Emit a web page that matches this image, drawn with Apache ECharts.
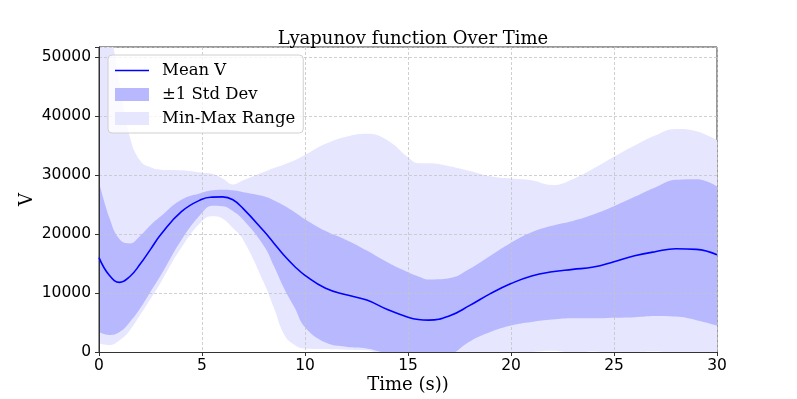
<!DOCTYPE html>
<html>
<head>
<meta charset="utf-8">
<title>Lyapunov function Over Time</title>
<script src="https://cdn.jsdelivr.net/npm/echarts@6/dist/echarts.min.js"></script>
<style>
    html, body { margin: 0; padding: 0; background: #fff; }
    #chart { width: 797px; height: 399px; }
</style>
</head>
<body>
<div id="chart"></div>
<script>
// time samples (s)
var timeArr  = [0, 0.5, 1, 1.5, 2, 2.5, 3, 4, 5, 5.5, 6, 6.5, 7, 8, 8.5, 9, 9.5, 10, 11, 12, 13, 14, 15, 15.5, 16, 17, 18, 19, 20, 21, 22, 23, 24, 25, 26, 27, 28, 29, 30];
// values
var meanArr  = [16000, 13000, 11800, 12800, 14900, 17400, 19900, 23800, 25900, 26250, 26300, 25800, 24300, 20500, 18400, 16300, 14500, 13000, 10800, 9700, 8800, 7200, 5900, 5500, 5400, 6100, 7900, 9900, 11600, 12900, 13600, 14000, 14400, 15300, 16300, 17000, 17500, 17400, 16500];
var stdUpArr = [28800, 22800, 19100, 18400, 19700, 21500, 23000, 25800, 27000, 27400, 27500, 27400, 27100, 26400, 25700, 24800, 23700, 22500, 20500, 19000, 17200, 15200, 13500, 12800, 12300, 12500, 14100, 16300, 18500, 20300, 21400, 22200, 23300, 24700, 26300, 27900, 29200, 29300, 28100];
var stdLowArr = [3400, 2900, 3400, 5100, 7400, 10200, 13000, 19000, 23600, 24800, 24700, 23900, 22400, 18000, 14500, 10700, 7500, 4200, 1600, 900, 600, -300, -1200, -1500, -1600, -600, 1800, 3400, 4500, 5100, 5500, 5700, 5700, 5800, 5900, 6100, 6000, 5400, 4500];
var maxArr   = [60000, 55000, 45400, 36400, 32400, 31300, 30900, 30800, 30400, 30200, 29400, 28400, 29100, 30500, 31200, 31800, 32500, 33400, 35300, 36500, 37000, 35900, 33000, 32000, 32000, 31500, 30700, 29800, 29400, 29100, 28300, 29300, 31100, 33100, 35000, 36700, 37800, 37400, 35900];
var minArr   = [1500, 1200, 2000, 3700, 6300, 9000, 11800, 17700, 22200, 23000, 22600, 21000, 19000, 11800, 7400, 2900, 1200, 600, 500, 400, 300, -1500, -3000, -3000, -3000, -2000, -500, -300, -200, 0, 200, -100, 100, -200, 0, 100, -100, 0, -200];

var serif = 'DejaVu Serif';
var sans = 'DejaVu Sans';
// blue at alpha 0.1 over white, and alpha 0.2 over that
var lightFill = '#e6e6ff';
var darkFill = '#b8b8ff';

function pairs(ys) {
    return timeArr.map(function (t, i) { return [t, ys[i]]; });
}

var myChart = echarts.init(document.getElementById('chart'));
var gridLine = { show: true, lineStyle: { color: '#c4c4c4', type: [3, 2], width: 0.8 } };
var option = {
    animation: false,
    title: {
        text: 'Lyapunov function Over Time',
        left: 408,
        top: 25,
        textAlign: 'center',
        textStyle: { fontFamily: serif, fontSize: 18, fontWeight: 'normal', color: '#000' }
    },
    legend: {
        left: 108,
        top: 55,
        orient: 'vertical',
        padding: [7, 8, 6, 7],
        itemWidth: 34,
        itemHeight: 13,
        itemGap: 7,
        backgroundColor: 'rgba(255,255,255,0.8)',
        borderColor: '#d0d0d0',
        borderWidth: 1,
        borderRadius: 4,
        selectedMode: false,
        z: 10,
        textStyle: { fontFamily: serif, fontSize: 16.5, color: '#000', lineHeight: 16, padding: [0, 0, 0, 8] },
        data: [
            { name: 'Mean V', icon: 'path://M0,0 L34,0 L34,1.6 L0,1.6 Z', itemStyle: { color: '#0000ff' } },
            { name: '±1 Std Dev', icon: 'rect', itemStyle: { color: darkFill } },
            { name: 'Min-Max Range', icon: 'rect', itemStyle: { color: lightFill } }
        ]
    },
    grid: {
        left: 99,
        right: 80,
        top: 47,
        bottom: 45,
        show: true,
        borderColor: '#333',
        borderWidth: 1
    },
    xAxis: {
        type: 'value',
        min: 0,
        max: 30,
        interval: 5,
        z: 3,
        name: 'Time (s))',
        nameLocation: 'middle',
        nameGap: 24,
        nameMoveOverlap: false,
        nameTextStyle: { fontFamily: serif, fontSize: 18, color: '#000' },
        axisLine: { lineStyle: { color: '#333' } },
        axisTick: { length: 4, lineStyle: { color: '#333' } },
        axisLabel: { fontFamily: sans, fontSize: 15.5, color: '#000', margin: 6 },
        splitLine: gridLine
    },
    yAxis: {
        type: 'value',
        min: 0,
        max: 51700,
        interval: 10000,
        z: 3,
        name: 'V',
        nameLocation: 'middle',
        nameGap: 63,
        nameMoveOverlap: false,
        nameRotate: 90,
        nameTextStyle: { fontFamily: serif, fontSize: 18, color: '#000' },
        axisLine: { show: true, lineStyle: { color: '#333' } },
        axisTick: { show: true, length: 4, lineStyle: { color: '#333' } },
        axisLabel: {
            fontFamily: sans, fontSize: 15.5, color: '#000', margin: 8,
            formatter: function (v) { return v % 10000 === 0 ? String(v) : ''; }
        },
        splitLine: gridLine
    },
    series: []
};

// bands are painted as opaque areas down to the axis, top to bottom
function fillSeries(name, arr, color) {
    return {
        name: name,
        type: 'line',
        smooth: 0.45,
        symbol: 'none',
        silent: true,
        z: 1,
        itemStyle: { color: color },
        lineStyle: { width: 0, opacity: 0 },
        areaStyle: { color: color, opacity: 1, origin: 'start' },
        data: pairs(arr)
    };
}
option.series.push(fillSeries('Min-Max Range', maxArr, lightFill));
option.series.push(fillSeries('±1 Std Dev', stdUpArr, darkFill));
option.series.push(fillSeries('stdLow', stdLowArr, lightFill));
option.series.push(fillSeries('minV', minArr, '#ffffff'));
option.series.push({
    name: 'Mean V',
    type: 'line',
    smooth: 0.45,
    symbol: 'none',
    silent: true,
    z: 5,
    itemStyle: { color: '#0000ff' },
    lineStyle: { color: '#0000ff', width: 1.6 },
    data: pairs(meanArr)
});

myChart.setOption(option);
</script>
</body>
</html>
